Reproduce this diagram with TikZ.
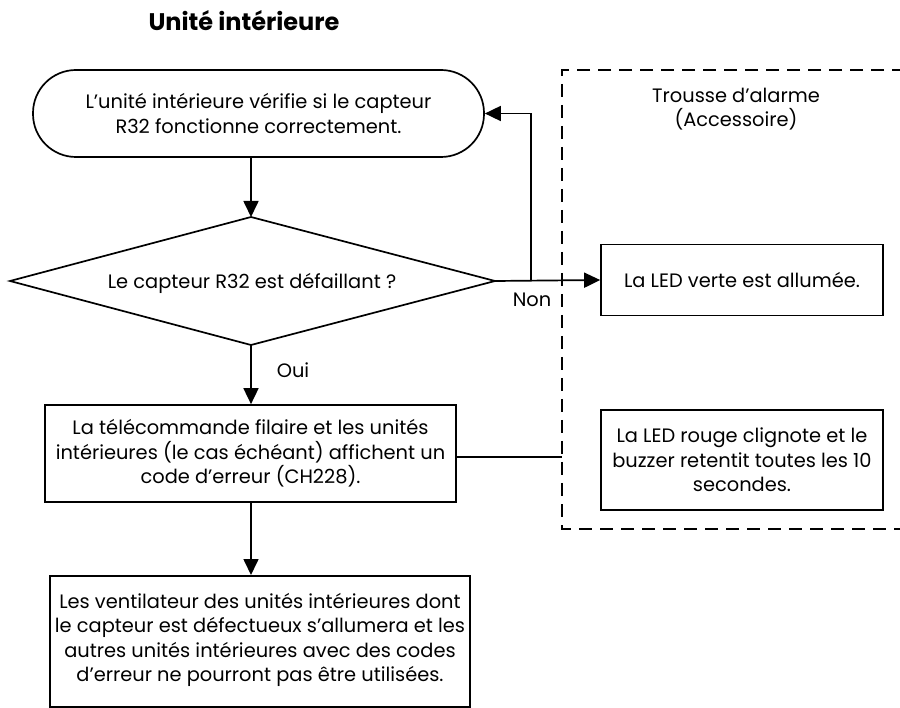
\documentclass[tikz,border=0pt]{standalone}
\usepackage{fontspec}
\setmainfont{Poppins}
\usetikzlibrary{arrows.meta}
\begin{document}
\begin{tikzpicture}[x=1pt,y=-1pt,
  every node/.style={font=\fontsize{19.4}{24.5}\selectfont, align=center, inner sep=0pt},
  boxstyle/.style={draw, line width=1.7pt, minimum width=#1},
  flow/.style={draw, line width=1.7pt, -{Triangle[length=16pt,width=15pt]}},
  plain/.style={draw, line width=1.7pt}
]
\useasboundingbox (0,0) rectangle (900,708);
% title
\node[font=\fontsize{24}{26}\selectfont\bfseries, anchor=base] (title) at (244,31) {Unité intérieure};
% start (stadium)
\node[draw, line width=1.7pt, rounded corners=43pt, minimum width=451pt, minimum height=87pt] (stad) at (258.5,113.5) {L’unité intérieure vérifie si le capteur\\R32 fonctionne correctement.};
% decision diamond
\coordinate (dT) at (251,217);
\coordinate (dR) at (495,281);
\coordinate (dB) at (251,345);
\coordinate (dL) at (10,281);
\draw[line width=1.7pt, line join=miter] (dT) -- (dR) -- (dB) -- (dL) -- cycle;
\node (dtext) at (252,283) {Le capteur R32 est défaillant ?};
% box 2
\node[boxstyle=411pt, minimum height=97pt] (b2) at (250.5,453.5) {La télécommande filaire et les unités\\intérieures (le cas échéant) affichent un\\code d’erreur (CH228).};
% box 3
\node[boxstyle=420pt, minimum height=131pt, anchor=north] (b3) at (260,575) {};
\node (b3t) at (260,640) {Les ventilateur des unités intérieures dont\\le capteur est défectueux s'allumera et les\\autres unités intérieures avec des codes\\d'erreur ne pourront pas être utilisées.};
% alarm kit
\draw[line width=1.7pt, dash pattern=on 13pt off 8pt] (905,70) -- (562,70) -- (562,529) -- (905,529);
\coordinate (kitL) at (562,457);
\node (kit) at (736,109) {Trousse d’alarme\\(Accessoire)};
\node[boxstyle=282pt, minimum height=71pt] (green) at (742,280) {La LED verte est allumée.};
\node[boxstyle=282pt, minimum height=100pt] (red) at (742,460) {La LED rouge clignote et le\\buzzer retentit toutes les 10\\secondes.};
% connectors
\draw[flow] (stad.south -| dT) -- (dT);
\draw[flow] (dB) -- (b2.north -| dB);
\node (oui) at (293,370) {Oui};
\draw[flow] (b2.south -| dB) -- (b3.north -| dB);
\coordinate (ret) at (531,281);
\draw[flow] (dR) -- (green.west);
\draw[flow] (ret) -- (ret |- stad.east) -- (stad.east);
\node (non) at (532,300) {Non};
\draw[plain] (b2.east |- kitL) -- (kitL);
\end{tikzpicture}
\end{document}
